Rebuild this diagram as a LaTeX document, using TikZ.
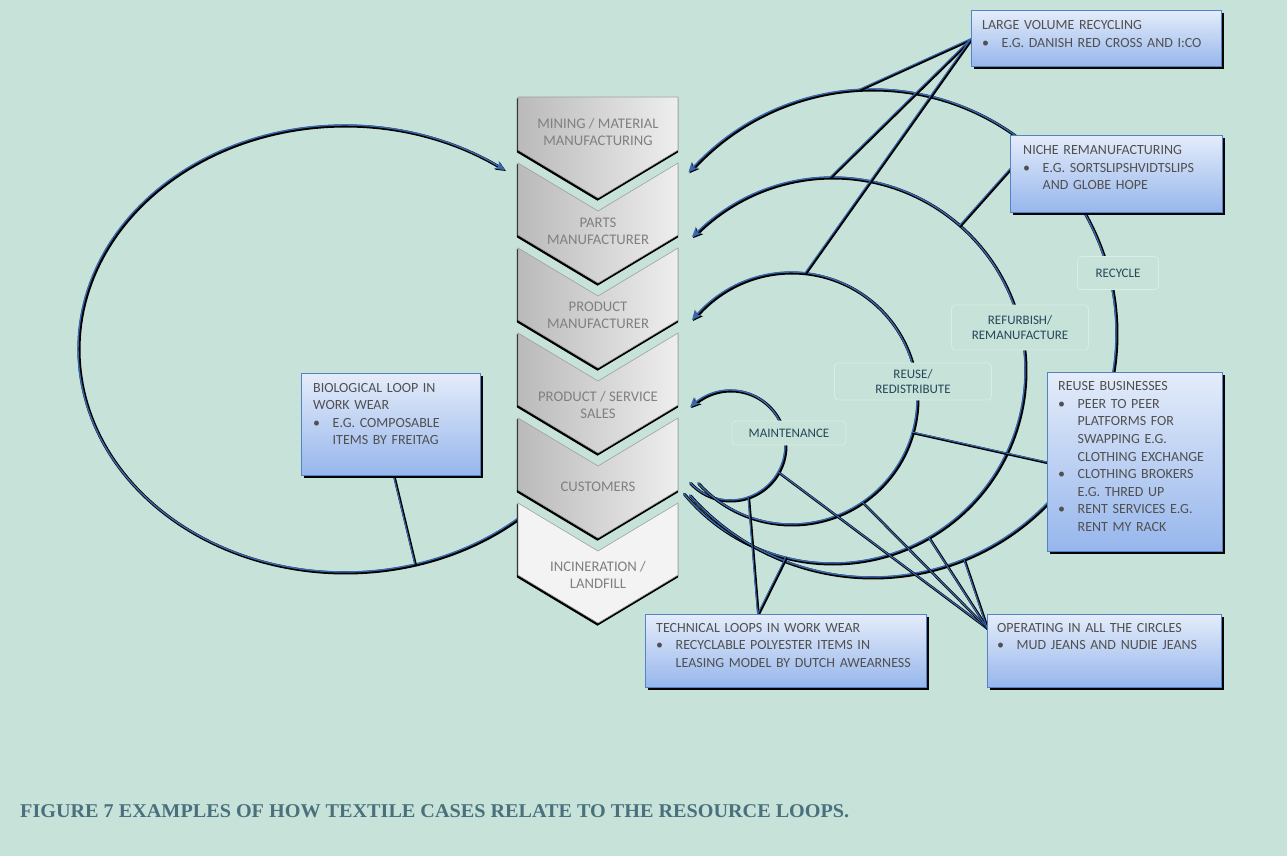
\documentclass[tikz,border=0pt]{standalone}
\usepackage{fontspec}
\usepackage{graphicx}
\setmainfont{Carlito}
\newfontfamily\capfont{Liberation Serif}
\usetikzlibrary{arrows.meta,shadows}

\definecolor{bgmint}{RGB}{199,227,217}
\definecolor{lblborder}{RGB}{215,237,229}
\definecolor{lbltext}{RGB}{38,70,88}
\definecolor{chevtext}{RGB}{128,128,128}
\definecolor{chevL}{RGB}{186,186,186}
\definecolor{chevR}{RGB}{238,238,238}
\definecolor{chevlight}{RGB}{243,243,243}
\definecolor{boxtop}{RGB}{228,236,250}
\definecolor{boxbot}{RGB}{150,182,236}
\definecolor{boxedge}{RGB}{84,130,196}
\definecolor{boxtext}{RGB}{80,80,80}
\definecolor{loopblue}{RGB}{58,104,172}
\definecolor{captext}{RGB}{74,112,125}

\tikzset{
  loopshade/.style={draw=black, line width=3.0pt, line cap=round},
  loopmain/.style={draw=loopblue, line width=1.4pt, line cap=round},
  connshade/.style={draw=black, line width=2.5pt, line cap=round},
  connmain/.style={draw=loopblue, line width=1.1pt, line cap=round},
  looptip/.style={-{Stealth[length=10pt,width=9pt]}},
  casebox/.style={draw=boxedge, line width=1.2pt, top color=boxtop, bottom color=boxbot,
    drop shadow={shadow xshift=2.5pt, shadow yshift=-2.5pt, fill=black, opacity=0.85},
    anchor=north west, inner sep=0},
  boxtxt/.style={text width=300pt, align=left, anchor=base west, inner sep=0,
    font=\fontsize{14}{17.6}\selectfont, text=boxtext},
  looplbl/.style={draw=lblborder, fill=bgmint, rounded corners=4pt, line width=0.8pt,
    text=lbltext, font=\fontsize{13}{14.5}\selectfont, align=center, inner sep=0},
  chevtxt/.style={text=chevtext, font=\fontsize{14.7}{17}\selectfont, align=center, inner sep=0},
}

% a loop or connector: dark offset shadow under a blue stroke
\newcommand\loopdraw[2][]{%
  \begin{scope}[transform canvas={shift={(1pt,-1pt)}}]\draw[loopshade,#1] #2;\end{scope}
  \draw[loopmain,#1] #2;}
\newcommand\conndraw[1]{%
  \begin{scope}[transform canvas={shift={(0.9pt,-0.9pt)}}]\draw[connshade] #1;\end{scope}
  \draw[connmain] #1;}

% one chevron of the value chain, top corners at height #1
\newcommand\chevpath[1]{(518,#1) -- (598,{#1+48}) -- (678,#1) -- (678,{#1+72}) -- (598,{#1+120}) -- (518,{#1+72}) -- cycle}
\newcommand\chevron[2]{%
  \begin{scope}[shift={(-0.5,2)}]\filldraw[black, line width=1.2pt] \chevpath{#1};\end{scope}
  \path[#2, draw=gray!75, line width=0.6pt] \chevpath{#1};}

% bullet item with hanging lines (break lines with \newline, end the text with \par)
\newcommand\bul{\par\hangindent=19.5pt\hangafter=1\noindent\makebox[19.5pt][l]{\textbullet}}

\begin{document}
\begin{tikzpicture}[x=1pt,y=-1pt]
\useasboundingbox (0,0) rectangle (1287,856);
\fill[bgmint] (0,0) rectangle (1287,856);

% biological loop on the left (its lower end runs under the customers chevron)
\loopdraw[looptip]{plot[domain=47:307, samples=150] ({344.5+266.5*cos(\x)},{348.5+223.5*sin(\x)})}

% technical loops on the right, from customers back up the chain
\loopdraw[looptip]{plot[domain=137:-136.5, samples=80] ({730+55*cos(\x)},{445+55*sin(\x)})}
\loopdraw[looptip]{plot[domain=137.7:-141.8, samples=120] ({791+126*cos(\x)},{398+126*sin(\x)})}
\loopdraw[looptip]{plot[domain=140.3:-136.5, samples=150] ({832+193*cos(\x)},{370+193*sin(\x)})}
\loopdraw[looptip]{plot[domain=138.4:-138.8, samples=180] ({872+244*cos(\x)},{333+244*sin(\x)})}

% points on the loops where the case connectors end
\coordinate (lvA) at ({872+244*cos(-93)},{333+244*sin(-93)});
\coordinate (lvB) at ({832+193*cos(-90.6)},{370+193*sin(-90.6)});
\coordinate (lvC) at ({791+126*cos(-83.6)},{398+126*sin(-83.6)});
\coordinate (nrA) at ({832+193*cos(-48.6)},{370+193*sin(-48.6)});
\coordinate (rbA) at ({791+126*cos(15.7)},{398+126*sin(15.7)});
\coordinate (tlA) at ({730+55*cos(70.9)},{445+55*sin(70.9)});
\coordinate (tlB) at ({832+193*cos(103.9)},{370+193*sin(103.9)});
\coordinate (opA) at ({730+55*cos(29.2)},{445+55*sin(29.2)});
\coordinate (opB) at ({791+126*cos(55.6)},{398+126*sin(55.6)});
\coordinate (opC) at ({832+193*cos(60)},{370+193*sin(60)});
\coordinate (opD) at ({872+244*cos(67.9)},{333+244*sin(67.9)});
\coordinate (bioA) at ({344.5+266.5*cos(74.7)},{348.5+223.5*sin(74.7)});

% case boxes (placed first so connectors can use their anchors)
\path (971,10) node[casebox, minimum width=250pt, minimum height=56pt] (lvrbox) {};
\path (1010,135) node[casebox, minimum width=212pt, minimum height=77pt] (nichebox) {};
\path (301,373) node[casebox, minimum width=179pt, minimum height=102pt] (biobox) {};
\path (1047,372) node[casebox, minimum width=175pt, minimum height=179pt] (reusebox) {};
\path (645,614) node[casebox, minimum width=281pt, minimum height=73pt] (techbox) {};
\path (987,614) node[casebox, minimum width=234pt, minimum height=73pt] (opbox) {};

% connectors from the cases to the loops
\conndraw{(lvrbox.west) -- (lvA)}
\conndraw{(lvrbox.west) -- (lvB)}
\conndraw{(lvrbox.west) -- (lvC)}
\conndraw{([yshift=5.5pt]nichebox.west) -- (nrA)}
\conndraw{(reusebox.west) -- (rbA)}
\conndraw{([xshift=-28.5pt]techbox.north) -- (tlA)}
\conndraw{([xshift=-28.5pt]techbox.north) -- (tlB)}
\conndraw{([yshift=-14pt]opbox.north west) -- (opA)}
\conndraw{([yshift=-14pt]opbox.north west) -- (opB)}
\conndraw{([yshift=-14pt]opbox.north west) -- (opC)}
\conndraw{([yshift=-14pt]opbox.north west) -- (opD)}
\conndraw{([xshift=2.5pt]biobox.south) -- (bioA)}

% redraw the case boxes above the connector ends
\path (971,10) node[casebox, minimum width=250pt, minimum height=56pt] (lvrbox) {};
\path (1010,135) node[casebox, minimum width=212pt, minimum height=77pt] (nichebox) {};
\path (301,373) node[casebox, minimum width=179pt, minimum height=102pt] (biobox) {};
\path (1047,372) node[casebox, minimum width=175pt, minimum height=179pt] (reusebox) {};
\path (645,614) node[casebox, minimum width=281pt, minimum height=73pt] (techbox) {};
\path (987,614) node[casebox, minimum width=234pt, minimum height=73pt] (opbox) {};

% loop labels
\node[looplbl, minimum width=81pt, minimum height=33pt] (recyclelbl) at (1118,273) {RECYCLE};
\node[looplbl, minimum width=137pt, minimum height=45pt] (refurblbl) at (1020,327.5) {REFURBISH/\\REMANUFACTURE};
\node[looplbl, minimum width=157pt, minimum height=37pt] (reuselbl) at (913,381.5) {REUSE/\\REDISTRIBUTE};
\node[looplbl, minimum width=114pt, minimum height=24pt] (maintlbl) at (789,433) {MAINTENANCE};

% value chain chevrons
\begin{scope}[shift={(-0.5,2)}]
  \filldraw[black, line width=1.2pt] (518,97) -- (678,97) -- (678,150) -- (598,198) -- (518,150) -- cycle;
\end{scope}
\path[left color=chevL, right color=chevR, draw=gray!75, line width=0.6pt]
  (518,97) -- (678,97) -- (678,150) -- (598,198) -- (518,150) -- cycle;
\chevron{163}{left color=chevL, right color=chevR}
\chevron{248}{left color=chevL, right color=chevR}
\chevron{333}{left color=chevL, right color=chevR}
\chevron{418}{left color=chevL, right color=chevR}
\chevron{503}{fill=chevlight}

\node[chevtxt] (chev1) at (598,131.5) {MINING / MATERIAL\\MANUFACTURING};
\node[chevtxt] (chev2) at (598,231) {PARTS\\MANUFACTURER};
\node[chevtxt] (chev3) at (598,315.5) {PRODUCT\\MANUFACTURER};
\node[chevtxt] (chev4) at (598,404.5) {PRODUCT / SERVICE\\SALES};
\node[chevtxt] (chev5) at (598,487) {CUSTOMERS};
\node[chevtxt] (chev6) at (598,574.5) {INCINERATION /\\LANDFILL};

% case texts
\node[boxtxt] (lvrtxt) at (982,29.6) {LARGE VOLUME RECYCLING\bul E.G. DANISH RED CROSS AND I:CO\par};
\node[boxtxt] (nichetxt) at (1023,154.6) {NICHE REMANUFACTURING\bul E.G. SORTSLIPSHVIDTSLIPS\newline AND GLOBE HOPE\par};
\node[boxtxt] (biotxt) at (313,392) {BIOLOGICAL LOOP IN\\WORK WEAR\bul E.G. COMPOSABLE\newline ITEMS BY FREITAG\par};
\node[boxtxt] (reusetxt) at (1058,390.6) {REUSE BUSINESSES\bul PEER TO PEER\newline PLATFORMS FOR\newline SWAPPING E.G.\newline CLOTHING EXCHANGE\bul CLOTHING BROKERS\newline E.G. THRED UP\bul RENT SERVICES E.G.\newline RENT MY RACK\par};
\node[boxtxt] (techtxt) at (656,632) {TECHNICAL LOOPS IN WORK WEAR\bul RECYCLABLE POLYESTER ITEMS IN\newline LEASING MODEL BY DUTCH AWEARNESS\par};
\node[boxtxt] (optxt) at (997,632) {OPERATING IN ALL THE CIRCLES\bul MUD JEANS AND NUDIE JEANS\par};

% caption
\node[anchor=base west, inner sep=0, text=captext] (caption) at (20,817)
  {\resizebox{829pt}{\height}{\capfont\bfseries\fontsize{19.5}{20}\selectfont FIGURE 7 EXAMPLES OF HOW TEXTILE CASES RELATE TO THE RESOURCE LOOPS.}};
\end{tikzpicture}
\end{document}
